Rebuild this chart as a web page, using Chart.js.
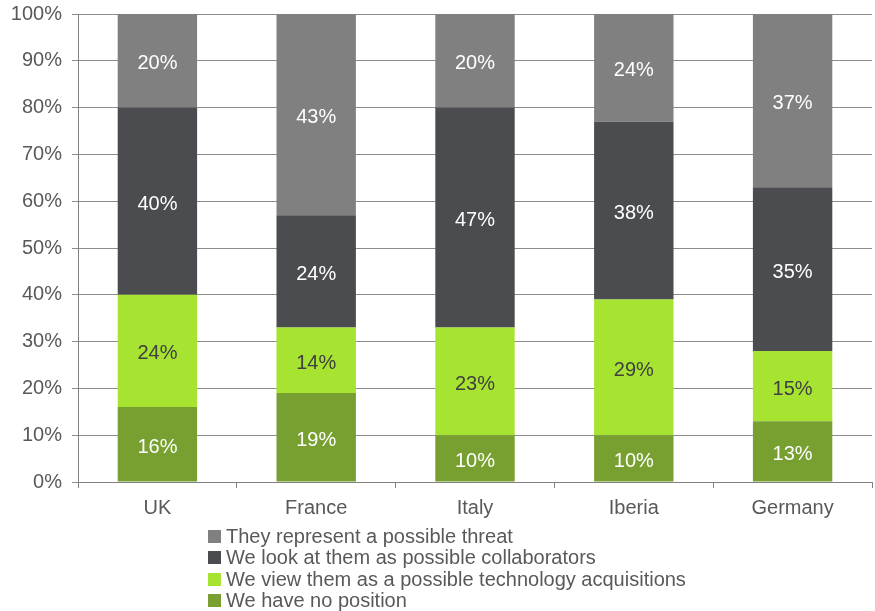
<!DOCTYPE html>
<html>
<head>
<meta charset="utf-8">
<script src="https://cdn.jsdelivr.net/npm/chart.js@4/dist/chart.umd.min.js"></script>
<style>
  body { margin: 0; background: #fff; }
  #wrap { position: relative; width: 875px; height: 611px; }
  #legend { position: absolute; left: 208px; top: 526px; font: 20px "Liberation Sans", Arial, sans-serif; color: #595959; }
  #legend div { height: 21.3px; line-height: 21px; white-space: nowrap; }
  #legend span { display: inline-block; width: 13px; height: 13px; margin-right: 5px; vertical-align: 0px; }
</style>
</head>
<body>
<div id="wrap">
  <canvas id="canvas" width="875" height="611"></canvas>
  <div id="legend"></div>
</div>
<script>
const ctx = document.getElementById("canvas").getContext("2d");

const countries = ["UK", "France", "Italy", "Iberia", "Germany"];
const no_position = [16, 19, 10, 10, 13];
const acquisitions = [24, 14, 23, 29, 15];
const collaborators = [40, 24, 47, 38, 35];
const threat = [20, 43, 20, 24, 37];

const FONT = "'Liberation Sans', Arial, sans-serif";

const series = [
  { label: "We have no position", data: no_position, color: "#77A030", text: "#ffffff" },
  { label: "We view them as a possible technology acquisitions", data: acquisitions, color: "#A6E431", text: "#404040" },
  { label: "We look at them as possible collaborators", data: collaborators, color: "#4B4C50", text: "#ffffff" },
  { label: "They represent a possible threat", data: threat, color: "#808080", text: "#ffffff" },
];

// draw the percentage in the middle of each segment
const segment_labels = {
  id: "segment_labels",
  afterDatasetsDraw(chart) {
    const c = chart.ctx;
    const area = chart.chartArea;
    c.save();
    c.font = "20px " + FONT;
    c.textAlign = "center";
    c.textBaseline = "middle";
    chart.data.datasets.forEach((ds, i) => {
      chart.getDatasetMeta(i).data.forEach((bar, j) => {
        const top = Math.max(bar.y, area.top);
        const bottom = Math.min(bar.base, area.bottom);
        c.fillStyle = series[i].text;
        c.fillText(ds.data[j] + "%", bar.x, (top + bottom) / 2 + 3);
      });
    });
    c.restore();
  }
};

const chart = new Chart(ctx, {
  type: "bar",
  data: {
    labels: countries,
    datasets: series.map(s => ({
      label: s.label,
      data: s.data,
      backgroundColor: s.color,
      borderWidth: 0,
      barPercentage: 0.5,
      categoryPercentage: 1.0,
    })),
  },
  options: {
    responsive: false,
    animation: false,
    layout: { padding: { top: 14, right: 3, bottom: 89, left: 0 } },
    plugins: {
      legend: { display: false },
      tooltip: { enabled: false },
    },
    scales: {
      x: {
        stacked: true,
        grid: { drawOnChartArea: false, offset: true, tickLength: 6, color: "#808080" },
        border: { color: "#808080" },
        ticks: { font: { size: 20, family: FONT }, color: "#595959", padding: 8 },
        afterFit: (scale) => { scale.height = 40; scale.paddingLeft = 0; scale.paddingRight = 0; },
      },
      y: {
        stacked: true,
        min: 0,
        max: 100,
        grid: { color: "#8c8c8c", tickLength: 6 },
        border: { color: "#808080" },
        ticks: {
          stepSize: 10,
          font: { size: 20, family: FONT },
          color: "#595959",
          padding: 10,
          callback: (v) => v + "%",
        },
        afterFit: (scale) => { scale.width = 78; scale.paddingTop = 0; scale.paddingBottom = 0; },
      },
    },
  },
  plugins: [segment_labels],
});

// legend, top series first
const legend = document.getElementById("legend");
series.slice().reverse().forEach(s => {
  const row = document.createElement("div");
  const box = document.createElement("span");
  box.style.background = s.color;
  row.appendChild(box);
  row.appendChild(document.createTextNode(s.label));
  legend.appendChild(row);
});
</script>
</body>
</html>
